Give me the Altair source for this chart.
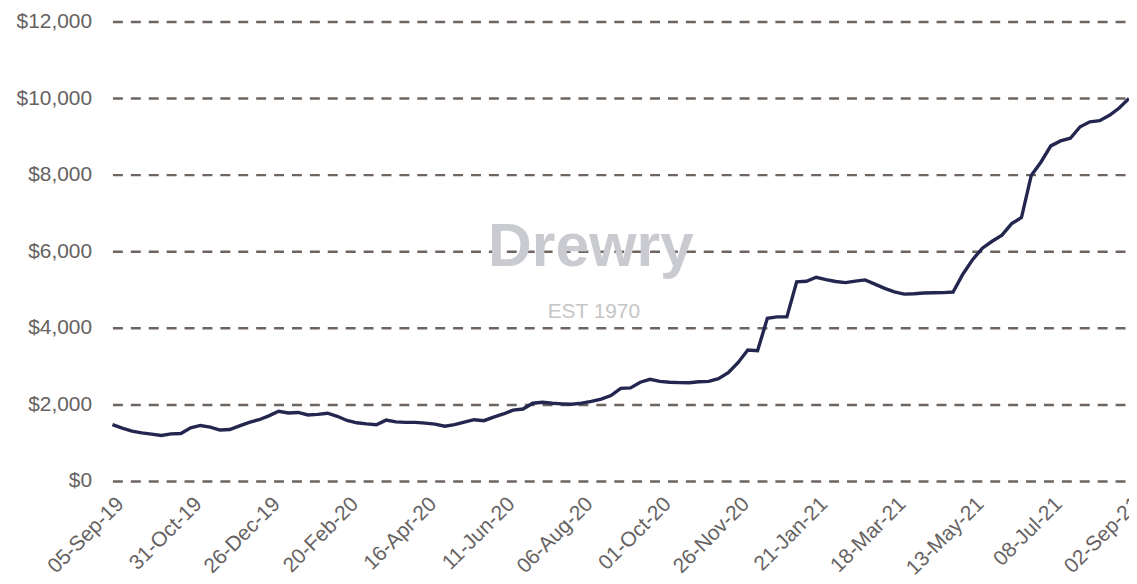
import altair as alt
import pandas as pd

# Weekly spot rate (USD per 40ft container), 05-Sep-19 .. 02-Sep-21
rates = [
    1470, 1380, 1300, 1255, 1225, 1190, 1230, 1240, 1390, 1450,
    1405, 1330, 1345, 1440, 1530, 1600, 1700, 1820, 1775, 1790,
    1725, 1740, 1770, 1690, 1580, 1520, 1490, 1470, 1590, 1545,
    1530, 1530, 1510, 1485, 1430, 1470, 1540, 1600, 1575, 1670,
    1750, 1850, 1880, 2030, 2055, 2030, 2015, 2005, 2035, 2080,
    2140, 2230, 2420, 2430, 2580, 2655, 2600, 2580, 2570, 2565,
    2590, 2600, 2670, 2830, 3090, 3420, 3400, 4250, 4285, 4285,
    5200, 5215, 5320, 5260, 5210, 5180, 5220, 5250, 5140, 5030,
    4940, 4880, 4890, 4910, 4915, 4920, 4935, 5400, 5780, 6080,
    6260, 6420, 6720, 6880, 7980, 8330, 8750, 8880, 8950, 9250,
    9380, 9410, 9550, 9740, 9990,
]
dates = pd.date_range("2019-09-05", periods=len(rates), freq="7D")
date_strings = dates.strftime("%Y-%m-%d").tolist()

tick_labels = [
    "05-Sep-19", "31-Oct-19", "26-Dec-19", "20-Feb-20", "16-Apr-20",
    "11-Jun-20", "06-Aug-20", "01-Oct-20", "26-Nov-20", "21-Jan-21",
    "18-Mar-21", "13-May-21", "08-Jul-21", "02-Sep-21",
]
tick_ms = [int(pd.Timestamp(d).value // 10**6) for d in pd.to_datetime(tick_labels, format="%d-%b-%y")]
y_ticks = [0, 2000, 4000, 6000, 8000, 10000, 12000]

watermark_main = ["Drewry"]
watermark_sub = ["EST 1970"]

df = pd.DataFrame({"date": date_strings, "rate": rates})

x_enc = alt.X(
    "date:T",
    scale=alt.Scale(type="utc", domain=[tick_ms[0], tick_ms[-1]], nice=False),
    axis=alt.Axis(
        values=tick_ms,
        labelExpr="utcFormat(datum.value, '%d-%b-%y')",
        labelAngle=-45,
        labelAlign="right",
        labelBaseline="top",
        labelFontSize=21,
        labelFont="Liberation Sans",
        labelColor="#666262",
        labelPadding=12,
        ticks=False,
        domain=False,
        grid=False,
        title=None,
        labelOverlap=False,
        labelFlush=False,
    ),
)
y_enc = alt.Y(
    "rate:Q",
    scale=alt.Scale(domain=[0, 12000], nice=False),
    axis=alt.Axis(
        values=y_ticks,
        format="$,.0f",
        labelFontSize=21,
        labelFont="Liberation Sans",
        labelColor="#666262",
        labelPadding=21,
        ticks=False,
        domain=False,
        grid=True,
        gridColor="#6e6560",
        gridWidth=2.5,
        gridDash=[10, 8],
        title=None,
    ),
)

line = alt.Chart(df).mark_line(color="#23264f", strokeWidth=3.4).encode(x=x_enc, y=y_enc)

wm1 = alt.Chart(pd.DataFrame({"t": watermark_main})).mark_text(
    font="Liberation Sans", fontSize=61, fontWeight="bold", color="#c9cbd0",
    align="center", baseline="alphabetic",
).encode(text="t:N", x=alt.value(481), y=alt.value(246))

wm2 = alt.Chart(pd.DataFrame({"t": watermark_sub})).mark_text(
    font="Liberation Sans", fontSize=21, color="#c6c6c6",
    align="center", baseline="alphabetic",
).encode(text="t:N", x=alt.value(484), y=alt.value(298))

chart = alt.layer(wm1, wm2, line).properties(
    width=1022,
    height=462,
    padding={"left": 105, "top": 12, "right": 0, "bottom": 96},
    autosize=alt.AutoSizeParams(type="none"),
    background="white",
).configure_view(stroke=None)

chart.save("out.html", embed_options={"renderer": "svg", "actions": False})
